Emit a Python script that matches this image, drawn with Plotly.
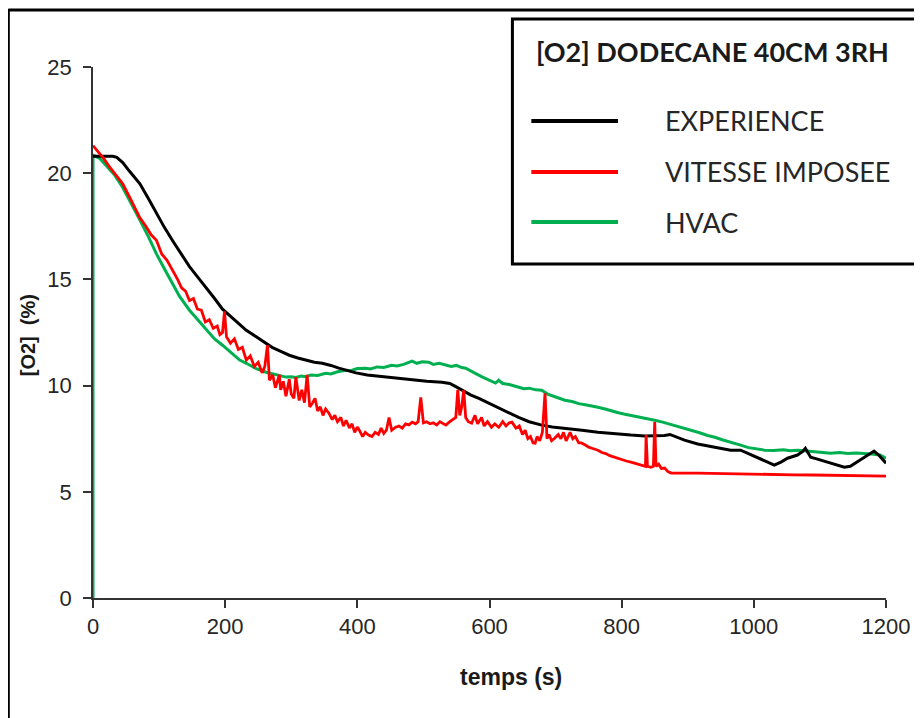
import plotly.graph_objects as go

# ---------------- data ----------------
exp_t = [0, 10, 20, 30, 36, 45, 55, 71, 84, 96, 108, 121, 134, 146, 160, 172, 184, 196, 210, 222,
         232, 247, 262, 271, 285, 297, 310, 323, 335, 347, 360, 372, 385, 398, 415, 433, 448, 465,
         483, 505, 528, 540, 549, 560, 572, 584, 600, 614, 630, 644, 660, 679, 695, 714, 740, 764,
         790, 814, 835, 855, 865, 873, 885, 895, 915, 941, 955, 965, 980, 992, 1005, 1018, 1031,
         1041, 1051, 1066, 1074, 1078, 1082, 1086, 1095, 1107, 1120, 1137, 1146, 1156, 1168, 1182,
         1190, 1200]
exp_o2 = [20.8, 20.8, 20.8, 20.8, 20.75, 20.5, 20.1, 19.5, 18.8, 18.1, 17.45, 16.8, 16.2, 15.6, 15.05,
          14.6, 14.1, 13.6, 13.2, 12.9, 12.6, 12.3, 12.0, 11.8, 11.6, 11.43, 11.3, 11.2, 11.1, 11.05,
          10.95, 10.82, 10.7, 10.6, 10.5, 10.44, 10.38, 10.3, 10.25, 10.2, 10.16, 10.1, 9.95, 9.75,
          9.55, 9.4, 9.15, 8.94, 8.7, 8.5, 8.3, 8.14, 8.05, 8.0, 7.9, 7.8, 7.72, 7.67, 7.63, 7.62,
          7.65, 7.7, 7.55, 7.43, 7.25, 7.1, 7.02, 6.96, 6.96, 6.8, 6.63, 6.45, 6.26, 6.4, 6.58, 6.73,
          6.9, 7.05, 6.85, 6.63, 6.55, 6.44, 6.3, 6.16, 6.2, 6.4, 6.65, 6.92, 6.7, 6.35]

vit_t = [0, 8, 16, 25, 35, 45, 55, 63, 71, 80, 88, 96, 104, 112, 121, 128, 134, 140, 146, 152, 158,
         164, 170, 176, 182, 188, 192, 196, 199, 202, 208, 214, 220, 226, 232, 238, 244, 250, 256,
         260, 264, 267, 272, 276, 282, 284, 288, 292, 297, 300, 304, 307, 312, 316, 320, 324, 328,
         332, 336, 340, 344, 348, 352, 357, 362, 366, 370, 375, 379, 383, 388, 392, 396, 400, 403,
         408, 412, 417, 422, 427, 432, 436, 440, 444, 448, 452, 458, 463, 468, 473, 478, 483, 488,
         492, 496, 500, 505, 510, 515, 520, 525, 530, 534, 540, 545, 549, 552, 555, 558, 561, 564,
         568, 573, 578, 582, 588, 592, 597, 603, 608, 614, 620, 625, 630, 634, 640, 645, 650, 654,
         658, 662, 666, 669, 672, 676, 680, 684, 687, 690, 694, 699, 704, 708, 712, 716, 722, 726,
         730, 735, 739, 745, 750, 755, 760, 764, 770, 776, 782, 789, 795, 800, 807, 814, 820, 826,
         832, 836, 837, 839, 844, 848, 850, 852, 856, 860, 865, 870, 875, 885, 900, 915, 940, 970,
         1000, 1030, 1060, 1090, 1120, 1150, 1180, 1200]
vit_o2 = [21.3, 21.0, 20.7, 20.3, 19.9, 19.5, 18.9, 18.4, 17.9, 17.5, 17.1, 16.84, 16.2, 15.9, 15.4,
          15.0, 14.6, 14.45, 14.0, 14.1, 13.6, 13.55, 13.0, 13.1, 12.7, 12.8, 12.4, 12.5, 13.5, 12.3,
          12.0, 12.2, 11.7, 11.8, 11.2, 11.4, 10.9, 11.1, 10.6, 10.9, 11.9, 10.25, 10.5, 9.9, 10.5,
          9.8, 10.2, 9.5, 10.3, 9.6, 9.4, 10.4, 9.3, 9.8, 9.2, 10.5, 9.0, 9.17, 9.4, 8.8, 9.0, 8.6,
          8.9, 8.7, 8.4, 8.6, 8.3, 8.5, 8.1, 8.37, 8.0, 8.2, 7.8, 8.05, 7.9, 7.6, 7.8, 7.67, 7.6, 7.8,
          7.7, 8.0, 7.75, 7.9, 8.5, 7.9, 8.04, 8.1, 8.0, 8.2, 8.15, 8.28, 8.2, 8.3, 9.45, 8.25, 8.3,
          8.2, 8.25, 8.15, 8.3, 8.2, 8.14, 8.3, 8.4, 8.5, 9.8, 8.6, 9.0, 9.78, 8.5, 8.3, 8.23, 8.6,
          8.2, 8.5, 8.1, 8.3, 8.04, 8.2, 8.04, 8.3, 8.1, 8.25, 8.28, 8.0, 8.1, 7.7, 7.9, 7.5, 7.6,
          7.3, 7.29, 7.6, 7.4, 7.8, 9.64, 7.5, 7.7, 7.4, 7.53, 7.7, 7.5, 7.8, 7.4, 7.8, 7.5, 7.6,
          7.3, 7.3, 7.2, 7.1, 7.05, 7.0, 6.96, 6.85, 6.8, 6.7, 6.63, 6.55, 6.5, 6.45, 6.4, 6.35, 6.3,
          6.25, 6.2, 7.67, 6.2, 6.15, 6.2, 8.28, 6.2, 6.3, 6.1, 6.12, 5.95, 5.88, 5.87, 5.88, 5.88,
          5.86, 5.85, 5.84, 5.82, 5.8, 5.79, 5.77, 5.76, 5.75, 5.74]

hvac_t = [0, 0, 10, 21, 33, 45, 58, 71, 84, 96, 108, 121, 131, 146, 161, 172, 184, 196, 210, 222, 232,
          247, 262, 277, 292, 300, 307, 315, 322, 330, 340, 352, 360, 370, 383, 390, 400, 413, 420,
          430, 440, 452, 460, 470, 483, 490, 498, 508, 515, 524, 534, 542, 550, 558, 564, 572, 580,
          588, 596, 603, 609, 614, 620, 630, 644, 652, 660, 670, 679, 688, 697, 705, 714, 725, 735,
          745, 755, 764, 775, 785, 795, 805, 814, 825, 838, 850, 862, 873, 885, 895, 905, 918, 930,
          941, 952, 965, 980, 992, 1005, 1016, 1030, 1045, 1055, 1066, 1080, 1095, 1105, 1116, 1130,
          1142, 1155, 1166, 1178, 1191, 1200]
hvac_o2 = [0.0, 20.85, 20.7, 20.3, 19.9, 19.33, 18.6, 17.8, 17.0, 16.2, 15.5, 14.8, 14.2, 13.55, 13.0,
           12.6, 12.2, 11.9, 11.5, 11.2, 11.05, 10.8, 10.63, 10.5, 10.4, 10.42, 10.38, 10.45, 10.42,
           10.5, 10.48, 10.58, 10.55, 10.65, 10.72, 10.7, 10.8, 10.82, 10.78, 10.88, 10.85, 10.96,
           10.92, 11.0, 11.15, 11.05, 11.12, 11.1, 11.0, 11.05, 10.96, 10.9, 10.95, 10.85, 10.82,
           10.7, 10.55, 10.42, 10.3, 10.2, 10.12, 10.25, 10.1, 10.05, 9.93, 9.85, 9.88, 9.8, 9.78,
           9.6, 9.5, 9.42, 9.31, 9.25, 9.15, 9.1, 9.02, 8.98, 8.9, 8.8, 8.72, 8.65, 8.6, 8.52, 8.45,
           8.37, 8.28, 8.18, 8.1, 8.0, 7.9, 7.78, 7.65, 7.57, 7.45, 7.35, 7.2, 7.08, 7.0, 6.96, 6.95,
           6.98, 6.93, 6.96, 6.92, 6.88, 6.85, 6.82, 6.85, 6.8, 6.83, 6.82, 6.78, 6.73, 6.58]

series_names = ["EXPERIENCE", "VITESSE IMPOSEE", "HVAC"]
legend_title = "[O2] DODECANE 40CM 3RH"
x_title = "temps (s)"
y_title = "[O2]  (%)"
x_ticks = [0, 200, 400, 600, 800, 1000, 1200]
y_ticks = [0, 5, 10, 15, 20, 25]

# ---------------- layout geometry ----------------
# the page body adds an 8px margin, so the figure is 8px smaller and all
# page-pixel positions below are shifted by OFF
OFF = 8
W_FIG, H_FIG = 922 - OFF, 718 - OFF
L = 93 - OFF
T = 67 - OFF
R = W_FIG - (889 - OFF)
B = H_FIG - (598 - OFF)
PW = W_FIG - L - R
PH = H_FIG - T - B


def px_x(px):
    return (px - OFF - L) / PW


def px_y(py):
    return (H_FIG - B - (py - OFF)) / PH


colors = ["#000000", "#ff0000", "#00b050"]
widths = [3, 2.8, 3]

fig = go.Figure()
for name, xs, ys, c, w in [
    (series_names[2], hvac_t, hvac_o2, colors[2], widths[2]),
    (series_names[0], exp_t, exp_o2, colors[0], widths[0]),
    (series_names[1], vit_t, vit_o2, colors[1], widths[1]),
]:
    fig.add_trace(go.Scatter(x=xs, y=ys, mode="lines", name=name,
                             line=dict(color=c, width=w), showlegend=False))

tickfont = dict(family="Liberation Sans, Arial, sans-serif", size=22, color="#262626")

fig.update_xaxes(range=[0, 1200], tickvals=x_ticks, ticktext=[str(v) for v in x_ticks],
                 showgrid=False, zeroline=False, showline=True, linecolor="#333333", linewidth=1.5,
                 ticks="outside", ticklen=8, tickwidth=1.5, tickcolor="#333333", tickfont=tickfont)
fig.update_yaxes(range=[0, 25], tickvals=y_ticks, ticktext=[str(v) for v in y_ticks],
                 showgrid=False, zeroline=False, showline=True, linecolor="#333333", linewidth=1.5,
                 ticks="outside", ticklen=8, tickwidth=1.5, tickcolor="#333333", tickfont=tickfont,
                 ticklabelstandoff=7)

shapes = []
annotations = []

# outer chart frame (top and left edges visible)
shapes.append(dict(type="line", xref="paper", yref="paper", x0=px_x(8), x1=px_x(930),
                   y0=px_y(10), y1=px_y(10), line=dict(color="#000000", width=3), layer="above"))
shapes.append(dict(type="line", xref="paper", yref="paper", x0=px_x(8), x1=px_x(8),
                   y0=px_y(9), y1=px_y(725), line=dict(color="#000000", width=3), layer="above"))

# legend box
shapes.append(dict(type="rect", xref="paper", yref="paper", x0=px_x(514), x1=px_x(935),
                   y0=px_y(264), y1=px_y(19), fillcolor="#ffffff",
                   line=dict(color="#000000", width=3), layer="above"))

legfont = "Lato, Carlito, Calibri, sans-serif"
annotations.append(dict(text="<b>" + legend_title + "</b>", xref="paper", yref="paper",
                        x=px_x(536), y=px_y(52), xanchor="left", yanchor="middle", showarrow=False,
                        font=dict(family=legfont, size=27, color="#1a1a1a")))
row_y = [121, 172, 222]
for name, c, ry in zip(series_names, colors, row_y):
    shapes.append(dict(type="line", xref="paper", yref="paper", x0=px_x(533), x1=px_x(620),
                       y0=px_y(ry), y1=px_y(ry), line=dict(color=c, width=4), layer="above"))
    annotations.append(dict(text=name, xref="paper", yref="paper", x=px_x(665), y=px_y(ry),
                            xanchor="left", yanchor="middle", showarrow=False,
                            font=dict(family=legfont, size=27, color="#262626")))

# axis titles
annotations.append(dict(text="<b>" + x_title + "</b>", xref="paper", yref="paper",
                        x=px_x(513), y=px_y(677), xanchor="center", yanchor="middle",
                        showarrow=False,
                        font=dict(family="Liberation Sans, Arial, sans-serif", size=23,
                                  color="#1a1a1a")))
annotations.append(dict(text="<b>" + y_title + "</b>", xref="paper", yref="paper",
                        x=px_x(28), y=px_y(335), xanchor="center", yanchor="middle",
                        textangle=-90, showarrow=False,
                        font=dict(family="Liberation Sans, Arial, sans-serif", size=20,
                                  color="#1a1a1a")))

fig.update_layout(width=W_FIG, height=H_FIG, margin=dict(l=L, r=R, t=T, b=B, pad=0),
                  paper_bgcolor="#ffffff", plot_bgcolor="#ffffff", showlegend=False,
                  shapes=shapes, annotations=annotations)

fig.write_html("out.html")
